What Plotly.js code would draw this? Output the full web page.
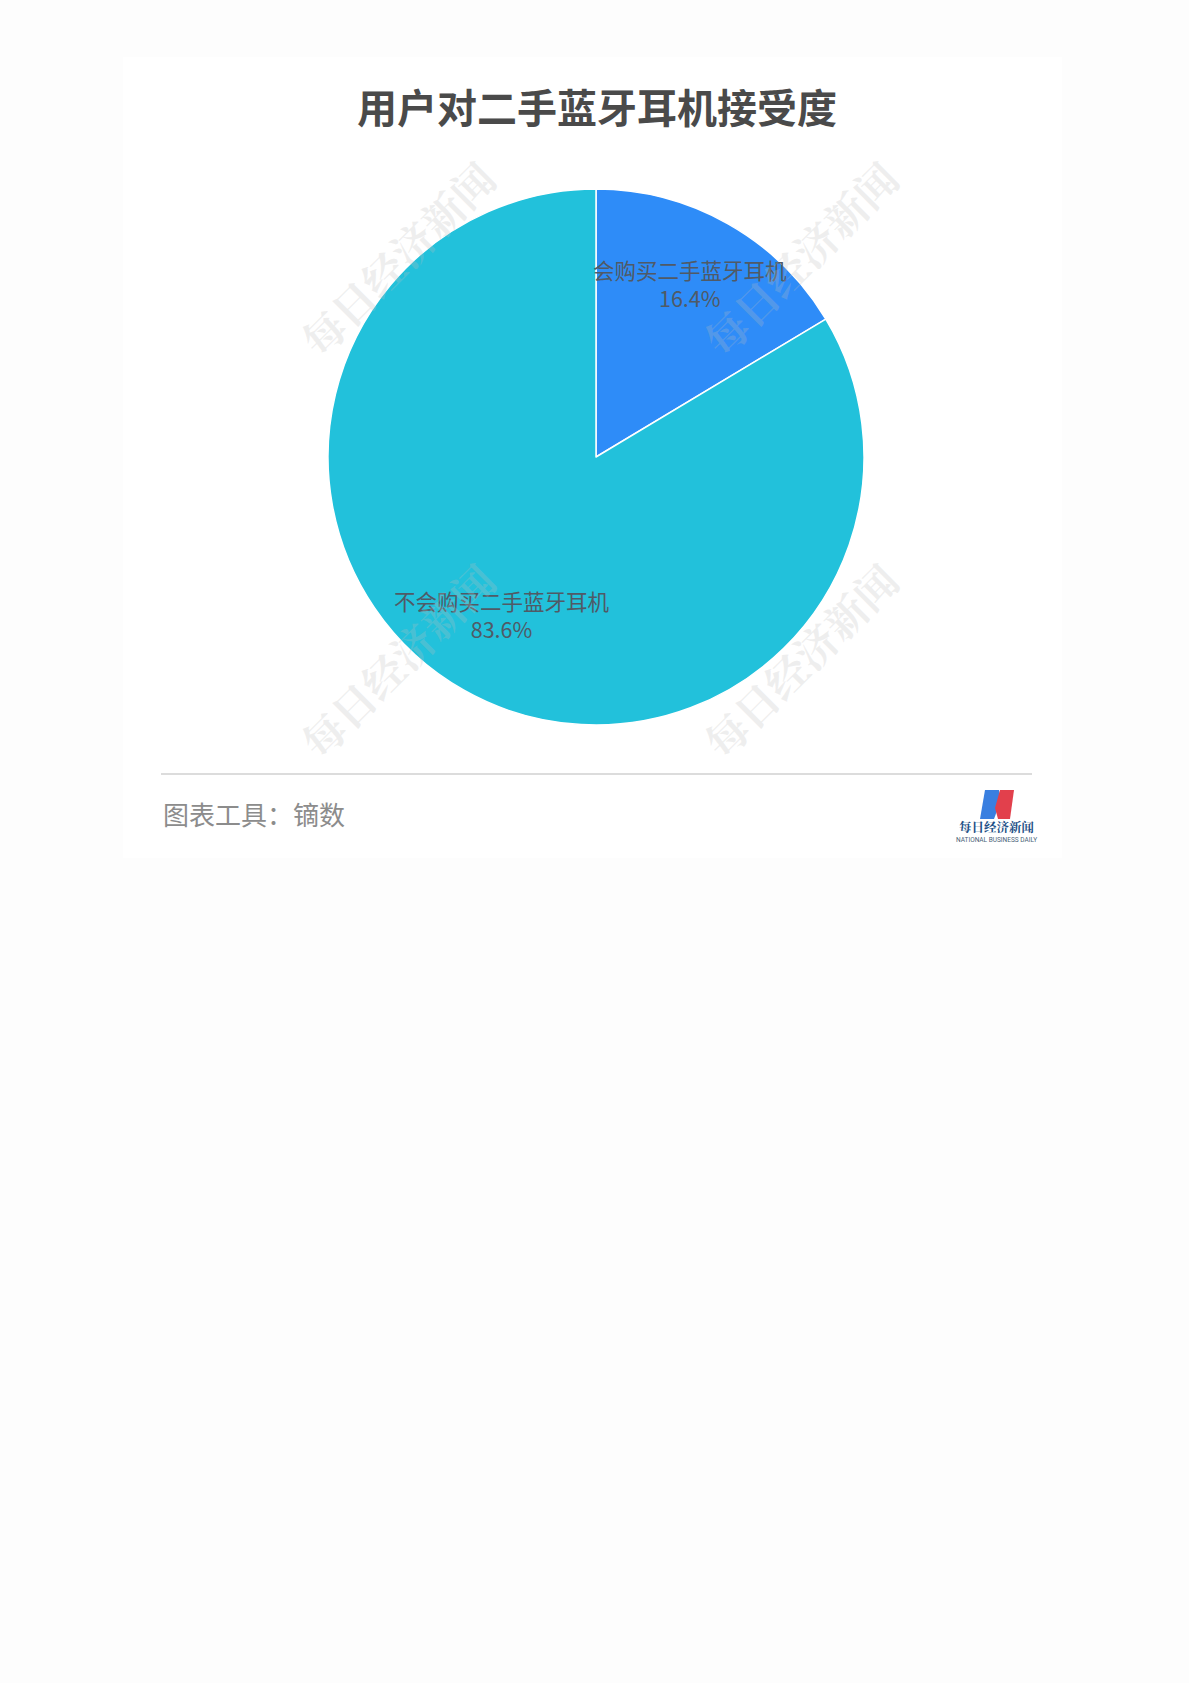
<!DOCTYPE html>
<html>
<head>
<meta charset="utf-8">
<script src="https://cdn.plot.ly/plotly-3.0.1.min.js"></script>
<style>
  html, body { margin: 0; padding: 0; background: #fdfdfd; }
  #chart { width: 1189px; height: 1683px; }
</style>
</head>
<body>
<div id="chart"></div>
<script>
// ---- data ----
const chartTitle = "用户对二手蓝牙耳机接受度";
const categories = ["会购买二手蓝牙耳机", "不会购买二手蓝牙耳机"];
const values = [16.4, 83.6];
const sliceColors = ["#2e8cf8", "#22c1db"];
const footerText = "图表工具：镝数";
const watermarkText = "每日经济新闻";
const logoName = "每日经济新闻";
const logoSub = "NATIONAL BUSINESS DAILY";

// ---- layout geometry (pixels) ----
const W = 1189, H = 1683;
const cx = 596, cy = 457, R = 268;
const px = x => x / W;
const py = y => 1 - y / H;

const trace = {
  type: "pie",
  labels: categories,
  values: values,
  sort: false,
  direction: "clockwise",
  rotation: 0,
  marker: { colors: sliceColors, line: { color: "#ffffff", width: 1.5 } },
  textinfo: "none",
  hoverinfo: "label+percent",
  showlegend: false,
  domain: { x: [px(cx - R), px(cx + R)], y: [py(cy + R), py(cy - R)] }
};

// label annotations computed from the data (mid-angle of each slice)
const total = values.reduce((a, b) => a + b, 0);
const annotations = [];
let acc = 0;
values.forEach((v, i) => {
  const mid = (acc + v / 2) / total * 2 * Math.PI;
  acc += v;
  const r = 0.71 * R;
  const x = cx + r * Math.sin(mid);
  const y = cy - r * Math.cos(mid) - 8;
  annotations.push({
    xref: "paper", yref: "paper", x: px(x), y: py(y),
    xanchor: "center", yanchor: "middle", showarrow: false,
    text: categories[i] + "<br>" + (v / total * 100).toFixed(1) + "%",
    font: { family: "Noto Sans CJK SC, sans-serif", size: 21.5, color: "#505a66" }
  });
});

// watermarks
[[397, 258], [800, 258], [397, 660], [800, 660]].forEach(p => {
  annotations.push({
    xref: "paper", yref: "paper", x: px(p[0]), y: py(p[1]),
    xanchor: "center", yanchor: "middle", showarrow: false,
    text: "<b>" + watermarkText + "</b>", textangle: -45,
    font: { family: "Noto Serif CJK SC, Noto Sans CJK SC, serif", size: 42, color: "rgba(190,190,190,0.25)" }
  });
});

// footer
annotations.push({
  xref: "paper", yref: "paper", x: px(161), y: py(813),
  xanchor: "left", yanchor: "middle", showarrow: false,
  text: footerText,
  font: { family: "Noto Sans CJK SC, sans-serif", size: 26, color: "#8c8c8c" }
});
// logo text
annotations.push({
  xref: "paper", yref: "paper", x: px(996), y: py(827),
  xanchor: "center", yanchor: "middle", showarrow: false,
  text: "<b>" + logoName + "</b>",
  font: { family: "Noto Serif CJK SC, Noto Sans CJK SC, serif", size: 12.5, color: "#1d4f86" }
});
annotations.push({
  xref: "paper", yref: "paper", x: px(996), y: py(840),
  xanchor: "center", yanchor: "middle", showarrow: false,
  text: logoSub,
  font: { family: "Roboto, sans-serif", size: 6.5, color: "#4a5f78" }
});

const shapes = [
  // card
  { type: "rect", xref: "paper", yref: "paper", layer: "below",
    x0: px(123), x1: px(1062), y0: py(858), y1: py(57),
    fillcolor: "#ffffff", line: { width: 0 } },
  // separator
  { type: "line", xref: "paper", yref: "paper",
    x0: px(161), x1: px(1032), y0: py(774), y1: py(774),
    line: { color: "#d0d0d0", width: 1.5 } },
  // logo blue stroke
  { type: "path", xref: "paper", yref: "paper",
    path: `M ${px(985)} ${py(790)} L ${px(999)} ${py(790)} L ${px(1001)} ${py(800)} L ${px(994)} ${py(819)} L ${px(980)} ${py(819)} Z`,
    fillcolor: "#3a7fe0", line: { width: 0 } },
  // logo red stroke
  { type: "path", xref: "paper", yref: "paper",
    path: `M ${px(1000)} ${py(790)} L ${px(1014)} ${py(790)} L ${px(1010)} ${py(819)} L ${px(998)} ${py(819)} L ${px(995)} ${py(808)} Z`,
    fillcolor: "#e2404c", line: { width: 0 } }
];

const layout = {
  width: W, height: H,
  margin: { l: 0, r: 0, t: 0, b: 0 },
  paper_bgcolor: "#fdfdfd",
  plot_bgcolor: "#fdfdfd",
  title: {
    text: "<b>" + chartTitle + "</b>",
    x: 597 / W, xanchor: "center",
    y: py(109), yanchor: "middle",
    font: { family: "Noto Sans CJK SC, sans-serif", size: 40, color: "#4a4a4a" }
  },
  annotations: annotations,
  shapes: shapes
};

Plotly.newPlot("chart", [trace], layout, { displayModeBar: false, staticPlot: true });
</script>
</body>
</html>
